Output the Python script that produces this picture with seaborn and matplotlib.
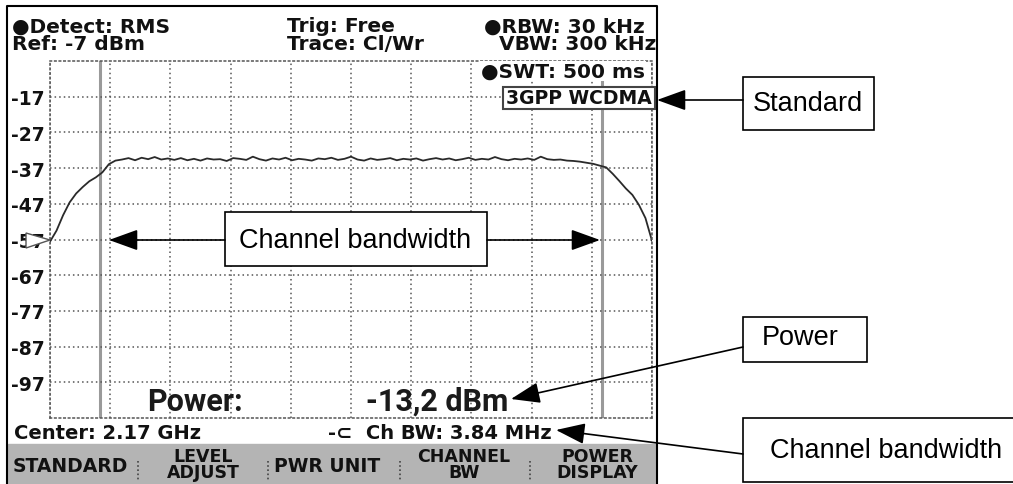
import numpy as np
import pandas as pd
import seaborn as sns
import matplotlib.pyplot as plt
from matplotlib.patches import Rectangle, Polygon

# данные трассы (смещение от центра, МГц / уровень, дБм)
center_ghz = 2.17
ch_bw_mhz = 3.84
span_mhz = 4.6
ref_dbm = -7
power_dbm = -13.2

freq = np.round(np.arange(-2.30, 2.301, 0.05), 2)
level = [
    -57.6, -54.5, -50.2, -46.6, -44.1, -42.3, -40.7, -39.6, -38.2, -35.9,
    -34.9, -34.6, -34.2, -34.8, -34.1, -34.5, -33.9, -34.6, -34.3, -34.7,
    -34.2, -34.8, -34.4, -34.9, -34.3, -34.6, -34.5, -35.0, -34.2, -34.4,
    -34.7, -33.8, -34.5, -34.9, -34.3, -34.6, -34.1, -34.8, -34.4, -34.6,
    -34.9, -34.3, -34.5, -34.1, -34.7, -34.4, -33.8, -34.6, -34.9, -34.3,
    -34.7, -34.5, -34.2, -34.8, -34.4, -34.6, -34.3, -34.9, -34.5, -34.2,
    -34.6, -34.3, -34.8, -34.5, -34.1, -34.7, -34.4, -34.6, -33.9, -34.5,
    -34.8, -34.4, -34.6, -34.3, -34.7, -33.8, -34.5, -34.7, -34.6, -34.9,
    -35.0, -35.2, -35.5, -35.8, -36.3, -36.8, -38.6, -40.6, -42.7, -44.5,
    -47.3, -51.0, -57.4,
]
y_labels = ["-17", "-27", "-37", "-47", "-57", "-67", "-77", "-87", "-97"]
softkeys = ["STANDARD", "LEVEL\nADJUST", "PWR UNIT", "CHANNEL\nBW", "POWER\nDISPLAY"]

df = pd.DataFrame({"freq": freq, "level": level})

sns.set_style("white")
plt.rcParams["font.family"] = ["DejaVu Sans"]

W, H = 1013, 485


def rect(x0, y0, x1, y1):
    return [x0 / W, 1 - y1 / H, (x1 - x0) / W, (y1 - y0) / H]


fig = plt.figure(figsize=(10.13, 4.85), dpi=100)
ax = fig.add_axes(rect(50, 62, 652, 419), zorder=1)
ov = fig.add_axes([0, 0, 1, 1], zorder=2)
ov.set_xlim(0, W)
ov.set_ylim(H, 0)
ov.axis("off")
ov.patch.set_alpha(0)

# --- экран анализатора ---
sns.lineplot(data=df, x="freq", y="level", ax=ax, color="#2a2a2a", lw=1.3)
ax.axvline(-ch_bw_mhz / 2, color="#9a9a9a", lw=2.2, zorder=0)
ax.axvline(ch_bw_mhz / 2, color="#9a9a9a", lw=2.2, zorder=0)
ax.set_xlim(-span_mhz / 2, span_mhz / 2)
ax.set_ylim(ref_dbm - 100, ref_dbm)
ax.set_xticks(np.linspace(-span_mhz / 2, span_mhz / 2, 11))
ax.set_yticks([ref_dbm - 10 * (i + 1) for i in range(9)])
ax.set_xticklabels([])
ax.set_yticklabels(y_labels, fontsize=13.5, fontweight="bold", color="#111")
ax.tick_params(length=0, pad=4)
ax.grid(True, color="#555", lw=1.1, ls=(0, (1, 2)))
for s in ax.spines.values():
    s.set_linestyle((0, (1, 2)))
    s.set_color("#555")
    s.set_linewidth(1.1)
ax.set_xlabel("")
ax.set_ylabel("")

# рамка экрана и панель софт-клавиш
ov.plot([7, 7, 657, 657], [H, 7, 7, H], color="black", lw=1.5)
ov.add_patch(Rectangle((8, 445), 648, 40, color="#b4b4b4", zorder=0))

bold = dict(fontweight="bold", color="#111", va="center")
ov.text(12, 27, "●Detect: RMS", fontsize=14.5, ha="left", **bold)
ov.text(12, 45, "Ref: -7 dBm", fontsize=14.5, ha="left", **bold)
ov.text(287, 27, "Trig: Free", fontsize=14.5, ha="left", **bold)
ov.text(287, 45, "Trace: Cl/Wr", fontsize=14.5, ha="left", **bold)
ov.text(645, 27, "●RBW: 30 kHz", fontsize=14.5, ha="right", **bold)
ov.text(656, 45, "VBW: 300 kHz", fontsize=14.5, ha="right", **bold)
ov.text(645, 72, "●SWT: 500 ms", fontsize=14.5, ha="right", **bold,
        bbox=dict(fc="white", ec="none", pad=0.5))
ov.add_patch(Rectangle((503, 88), 152, 22, fc="white", ec="#444", lw=1.5, zorder=3))
ov.text(579, 99, "3GPP WCDMA", fontsize=13.5, ha="center", zorder=4, **bold)

ov.add_patch(Polygon([[26, 234], [50, 241], [26, 249]], closed=True,
                     fc="white", ec="#555", lw=1, zorder=3))

big = dict(fontsize=22, family=["Roboto", "DejaVu Sans"], fontweight="bold",
           va="center", color="#1a1a1a")
ov.text(147, 402, "Power:", ha="left", **big)
ov.text(508, 402, f"{power_dbm:.1f} dBm".replace(".", ","), ha="right", **big)

ov.text(14, 434, f"Center: {center_ghz} GHz", fontsize=14, ha="left", **bold)
ov.text(328, 434, f"-⊂  Ch BW: {ch_bw_mhz} MHz", fontsize=14, ha="left", **bold)

key_x = [70, 203, 327, 464, 597]
for kx, lab in zip(key_x, softkeys):
    if "\n" in lab:
        ov.text(kx, 465, lab, fontsize=12.5, ha="center", linespacing=0.85, **bold)
    else:
        ov.text(kx, 467, lab, fontsize=13.5, ha="center", **bold)
for sx in [138, 268, 400, 530]:
    ov.plot([sx, sx], [462, 482], color="#444", lw=1.2, ls=(0, (1, 1.5)))

# --- выноски ---
ann = dict(fontsize=19.5, family="Liberation Sans", color="black",
           ha="center", va="center")
arrow = dict(arrowstyle="-|>,head_length=1.8,head_width=0.65",
             mutation_scale=10, color="black", lw=1.2, shrinkA=0, shrinkB=0)

ov.add_patch(Rectangle((225, 213), 262, 54, fc="white", ec="black", lw=1.2, zorder=5))
ov.text(355, 241, "Channel bandwidth", zorder=6, **ann)
ov.annotate("", xy=(109, 241), xytext=(225, 241), arrowprops=arrow, zorder=6)
ov.annotate("", xy=(600, 241), xytext=(487, 241), arrowprops=arrow, zorder=6)

ov.add_patch(Rectangle((743, 78), 131, 53, fc="white", ec="black", lw=1.2, zorder=5))
ov.text(808, 104, "Standard", zorder=6, **ann)
ov.annotate("", xy=(657, 101), xytext=(743, 101), arrowprops=arrow, zorder=6)

ov.add_patch(Rectangle((743, 318), 124, 45, fc="white", ec="black", lw=1.2, zorder=5))
ov.text(800, 338, "Power", zorder=6, **ann)
ov.annotate("", xy=(511, 400), xytext=(743, 348), arrowprops=arrow, zorder=6)

ov.add_patch(Rectangle((743, 419), 275, 64, fc="white", ec="black", lw=1.2, zorder=5))
ov.text(886, 451, "Channel bandwidth", zorder=6, **ann)
ov.annotate("", xy=(556, 431), xytext=(743, 455), arrowprops=arrow, zorder=6)

fig.savefig("out.png", dpi=100, facecolor="white")
